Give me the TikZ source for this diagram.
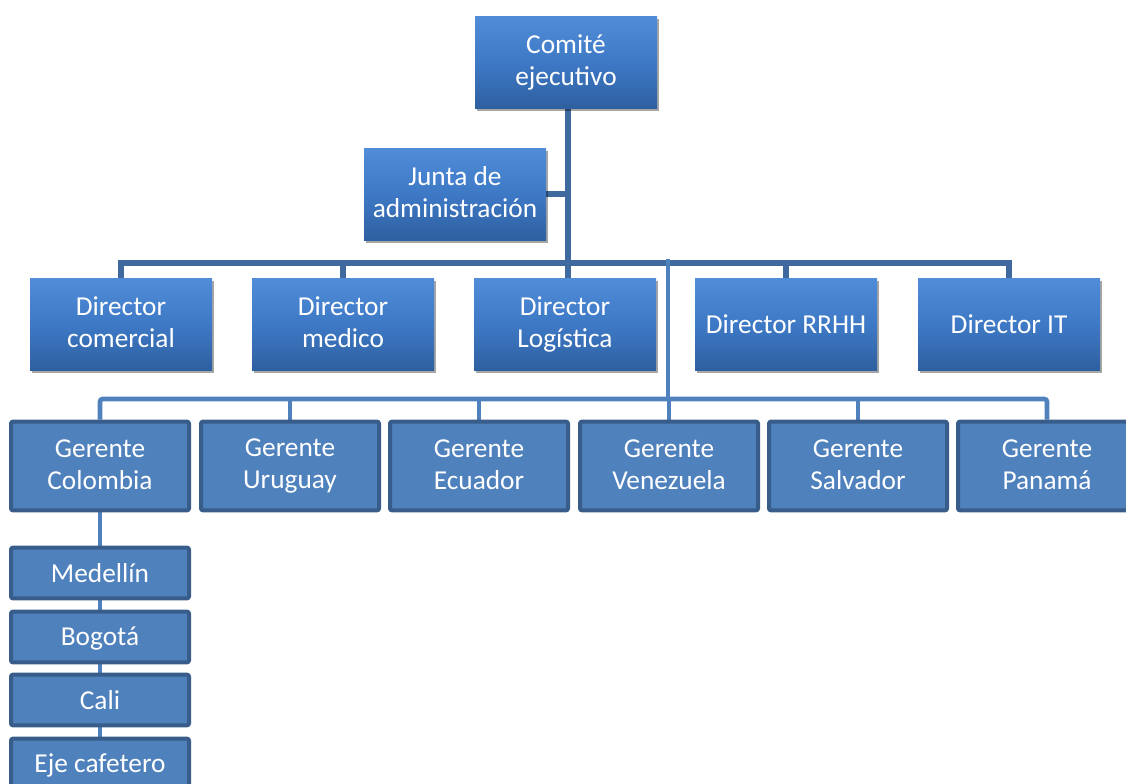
\documentclass[tikz,border=0pt]{standalone}
\usepackage{fontspec}
\setmainfont{Carlito}
\usetikzlibrary{shadows,backgrounds}

\definecolor{boxtop}{RGB}{80,140,216}
\definecolor{boxmid}{RGB}{62,121,198}
\definecolor{boxbot}{RGB}{46,96,160}
\definecolor{flatfill}{RGB}{79,129,189}
\definecolor{flatline}{RGB}{56,93,138}
\definecolor{topline}{RGB}{64,105,160}
\definecolor{lowline}{RGB}{79,129,189}

\newcommand\boxstrut{\rule[-2.5pt]{0pt}{18.5pt}}

\tikzset{
    bevelbox/.style={rectangle, minimum width=136.5pt, minimum height=69pt,
        inner sep=0pt, align=center, text=white,
        execute at begin node=\boxstrut, execute at end node=\boxstrut,
        top color=boxtop, bottom color=boxbot, middle color=boxmid,
        drop shadow={shadow xshift=1.5pt, shadow yshift=-2pt, opacity=0.35, fill=black}},
    flatbox/.style={rectangle, draw=flatline, fill=flatfill, line width=3pt,
        rounded corners=1.5pt, minimum width=133.5pt, minimum height=66.5pt,
        inner sep=0pt, align=center, text=white,
        execute at begin node=\boxstrut, execute at end node=\boxstrut},
    citybox/.style={flatbox, minimum height=38pt},
    toplink/.style={draw=topline, line width=3.8pt},
    lowlink/.style={draw=lowline, line width=3.5pt, rounded corners=2pt}
}

\begin{document}
\begin{tikzpicture}[x=0.75pt, y=-0.75pt, font=\fontsize{20.5}{24}\selectfont]
    \clip (0,0) rectangle (1126,783);
    \useasboundingbox (0,0) rectangle (1126,783);

    \node [bevelbox] (comite) at (566,62) {Comité\\ejecutivo};
    \node [bevelbox] (junta) at (455,194) {Junta de\\administración};

    \node [bevelbox] (dcomercial) at (121,324) {Director\\comercial};
    \node [bevelbox] (dmedico) at (343,324) {Director\\medico};
    \node [bevelbox] (dlogistica) at (565,324) {Director\\Logística};
    \node [bevelbox] (drrhh) at (786,324) {Director RRHH};
    \node [bevelbox] (dit) at (1009,324) {Director IT};

    \node [flatbox] (gcolombia) at (100,466) {Gerente\\Colombia};
    \node [flatbox] (guruguay) at (290,466) {Gerente\\Uruguay};
    \node [flatbox] (gecuador) at (479,466) {Gerente\\Ecuador};
    \node [flatbox] (gvenezuela) at (669,466) {Gerente\\Venezuela};
    \node [flatbox] (gsalvador) at (858,466) {Gerente\\Salvador};
    \node [flatbox] (gpanama) at (1047,466) {Gerente\\Panamá};

    \node [citybox] (medellin) at (100,573) {Medellín};
    \node [citybox] (bogota) at (100,637) {Bogotá};
    \node [citybox] (cali) at (100,700) {Cali};
    \node [citybox] (eje) at (100,764) {Eje cafetero};

    % connectors, behind the boxes
    \begin{scope}[on background layer]
        \coordinate (dbus) at (568,263);
        \coordinate (gbus) at (668,399);
        \draw [toplink] (comite.south -| dbus) -- (dlogistica.north -| dbus);
        \draw [toplink] (junta.east) -- (junta.east -| dbus);
        \draw [toplink] (dcomercial.north) |- (dbus) -| (dit.north);
        \foreach \d in {dmedico,drrhh}
            \draw [toplink] (\d.north) -- (\d.north |- dbus);
        \draw [lowlink] ([yshift=3pt]dbus -| gbus) -- (gbus);
        \draw [lowlink] (gcolombia.north) |- (gbus) -| (gpanama.north);
        \foreach \g in {guruguay,gecuador,gvenezuela,gsalvador}
            \draw [lowlink] (\g.north) -- (\g.north |- gbus);
        \draw [lowlink] (gcolombia.south) -- (eje.north);
    \end{scope}
\end{tikzpicture}
\end{document}
